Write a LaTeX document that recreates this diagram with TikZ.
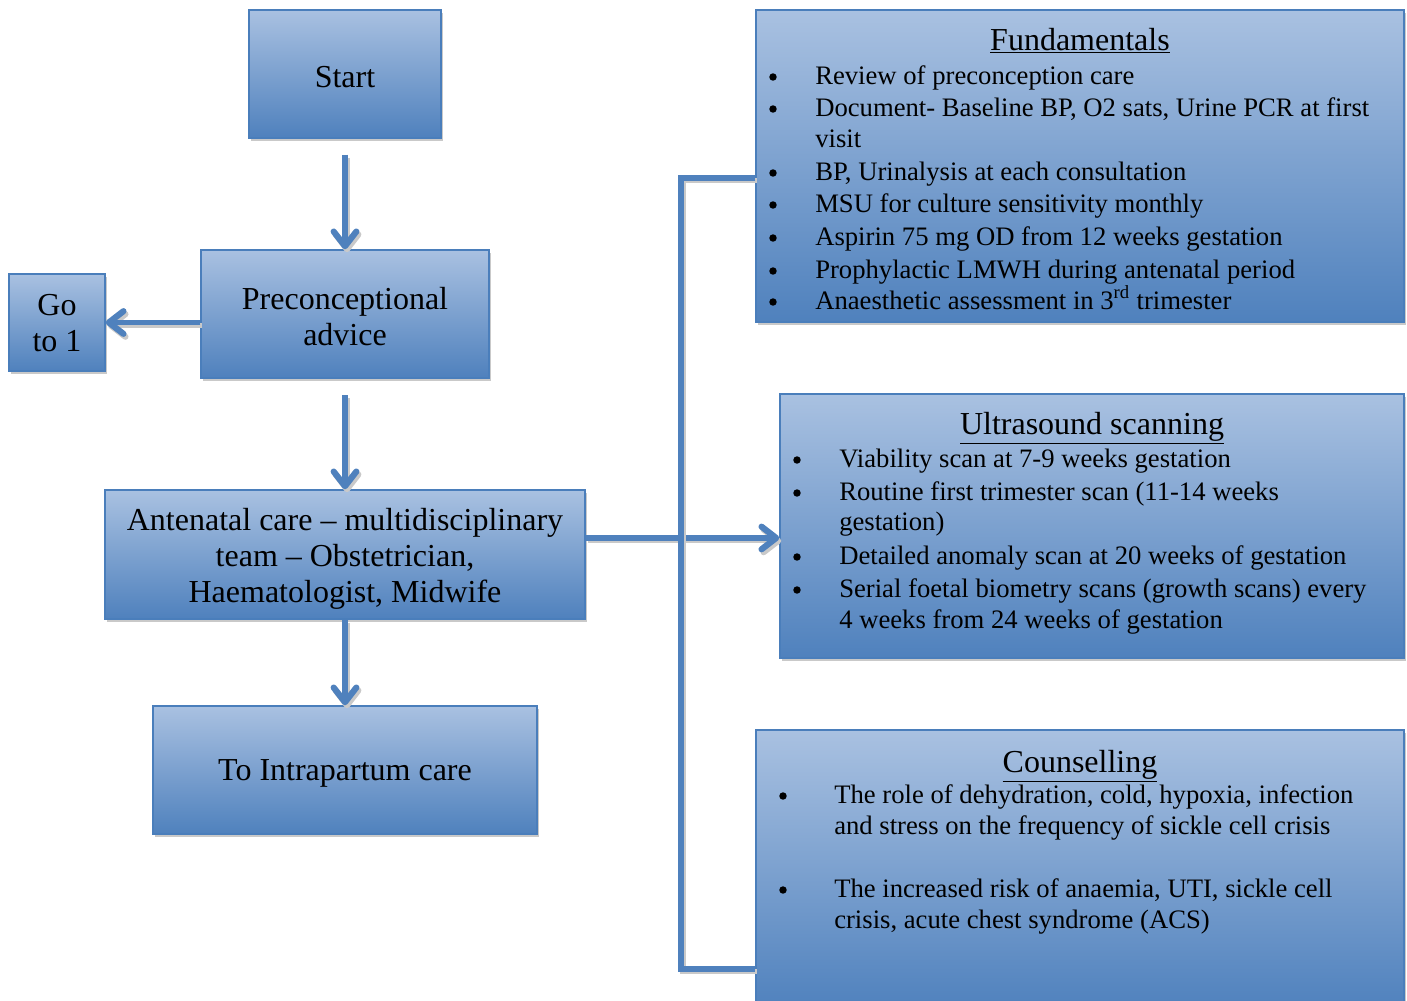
\documentclass[tikz,border=0pt]{standalone}
\usepackage{fontspec}
\setmainfont{Liberation Serif}
\usetikzlibrary{arrows.meta,shadows}
\definecolor{btop}{HTML}{A9C1E1}
\definecolor{bbot}{HTML}{4F81BD}
\definecolor{bdr}{HTML}{4A7EBB}
\definecolor{lnc}{HTML}{4F81BD}
\definecolor{shd}{HTML}{C9C9C9}
\begin{document}
\begin{tikzpicture}[x=0.75pt,y=-0.75pt,
  box/.style={draw=bdr, line width=1.1pt, top color=btop, bottom color=bbot,
    inner sep=0pt,
    drop shadow={shadow xshift=1.5pt, shadow yshift=-2.6pt, fill=shd, opacity=1}},
  btext/.style={inner sep=0pt, align=center, font=\fontsize{24}{27}\selectfont},
  conn/.style={draw=lnc, line width=3.8pt,
    preaction={draw=shd, line width=3.8pt, transform canvas={xshift=1.5pt, yshift=-2.2pt}}},
  arr/.style={conn, -{Straight Barb[length=11pt, width=17pt, line width=4.6pt, round]}},
  head/.style={anchor=base, inner sep=0pt, font=\fontsize{24}{27}\selectfont},
  itm/.style={anchor=base west, inner sep=0pt, font=\fontsize{20}{24}\selectfont},
  bul/.style={circle, fill=black, inner sep=0pt, minimum size=5.6pt}
]
\useasboundingbox (0,0) rectangle (1407,1000);

% left column boxes
\node[box, minimum width=144pt, minimum height=96pt] (start) at (345,74) {};
\node[btext] at ([yshift=-2.4pt]start.center) {Start};
\node[box, minimum width=216pt, minimum height=96pt] (precon) at (345,314) {};
\node[btext] at ([yshift=-2.2pt]precon.center) {Preconceptional\\advice};
\node[box, minimum width=72pt, minimum height=72.75pt] (go) at (57,322.5) {};
\node[btext] at ([yshift=-0.6pt]go.center) {Go\\to 1};
\node[box, minimum width=360pt, minimum height=96.75pt] (ante) at (345,554.5) {};
\node[btext] at ([yshift=-3pt]ante.center)
  {Antenatal care -- multidisciplinary\\team -- Obstetrician,\\Haematologist, Midwife};
\node[box, minimum width=288pt, minimum height=96pt] (intra) at (345,770) {};
\node[btext] at ([yshift=-2.4pt]intra.center) {To Intrapartum care};

% right panels
\node[box, minimum width=486pt, minimum height=234pt] (fund) at (1080,166) {};
\node[box, minimum width=468pt, minimum height=198pt] (us) at (1092,526) {};
\node[box, minimum width=486pt, minimum height=210pt] (couns) at (1080,870) {};

% connectors
\draw[arr] ([yshift=-12pt]start.south) -- (precon.north);
\draw[arr] ([yshift=-12.5pt]precon.south) -- (ante.north);
\draw[arr] (ante.south) -- (intra.north);
\draw[arr] (go.east -| precon.west) -- (go.east);
\draw[arr] ([yshift=12.4pt]ante.east) -- ([yshift=12.4pt]ante.east -| us.west);
\coordinate (bt) at (681,178);
\coordinate (bb) at (681,969);
\draw[conn] (fund.west |- bt) -- (bt) -- (bb) -- (couns.west |- bb);

% Fundamentals
\node[head] (fh) at (1080,50) {\underline{Fundamentals}};
\foreach \y in {84,116,180,212,245,278,309} \node[bul] at (773,\y-7) {};
\node[itm] (f1) at (815,84) {Review of preconception care};
\node[itm] (f2) at (815,116) {Document- Baseline BP, O2 sats, Urine PCR at first};
\node[itm] (f3) at (815,147) {visit};
\node[itm] (f4) at (815,180) {BP, Urinalysis at each consultation};
\node[itm] (f5) at (815,212) {MSU for culture sensitivity monthly};
\node[itm] (f6) at (815,245) {Aspirin 75 mg OD from 12 weeks gestation};
\node[itm] (f7) at (815,278) {Prophylactic LMWH during antenatal period};
\node[itm] (f8) at (815,309) {Anaesthetic assessment in 3\textsuperscript{rd} trimester};

% Ultrasound
\node[head] (uh) at (1092,434) {\underline{Ultrasound scanning}};
\foreach \y in {467,500,564,597} \node[bul] at (797,\y-7) {};
\node[itm] (u1) at (839,467) {Viability scan at 7-9 weeks gestation};
\node[itm] (u2) at (839,500) {Routine first trimester scan (11-14 weeks};
\node[itm] (u3) at (839,530) {gestation)};
\node[itm] (u4) at (839,564) {Detailed anomaly scan at 20 weeks of gestation};
\node[itm] (u5) at (839,597) {Serial foetal biometry scans (growth scans) every};
\node[itm] (u6) at (839,628) {4 weeks from 24 weeks of gestation};

% Counselling
\node[head] (ch) at (1080,772) {\underline{Counselling}};
\foreach \y in {803,897} \node[bul] at (783,\y-7) {};
\node[itm] (c1) at (834,803) {The role of dehydration, cold, hypoxia, infection};
\node[itm] (c2) at (834,834) {and stress on the frequency of sickle cell crisis};
\node[itm] (c3) at (834,897) {The increased risk of anaemia, UTI, sickle cell};
\node[itm] (c4) at (834,928) {crisis, acute chest syndrome (ACS)};
\end{tikzpicture}
\end{document}
